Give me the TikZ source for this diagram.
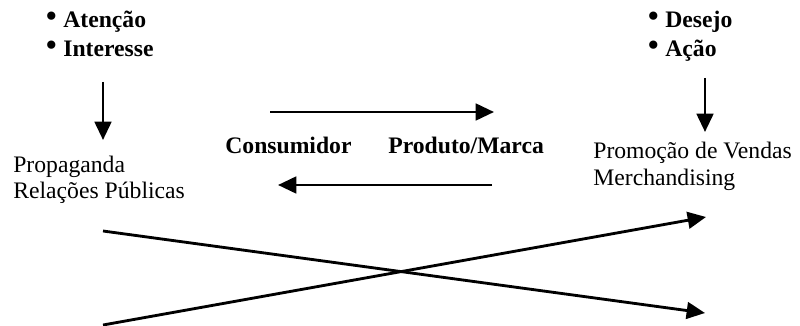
\documentclass[tikz,border=0pt]{standalone}
\usepackage{fontspec}
\setmainfont{Liberation Serif}
\usetikzlibrary{arrows.meta}

\newcommand{\bul}[1]{\makebox[10.8pt][l]{\smash{\scalebox{1.45}{\textbullet}}}\textbf{#1}}

\tikzset{
    txt/.style={anchor=base west, inner sep=0pt, font=\fontsize{14.2pt}{16pt}\selectfont},
    arr/.style={line width=1.7pt, -{Triangle[length=11pt,width=10pt]}}
}

\begin{document}
\begin{tikzpicture}[x=0.6pt, y=-0.6pt]
        \useasboundingbox (0,0) rectangle (800,326);

        \node[txt] (aten) at (45,28) {\bul{Atenção}};
        \node[txt] (inter) at (45,57) {\bul{Interesse}};
        \node[txt] (des) at (647,28) {\bul{Desejo}};
        \node[txt] (acao) at (647,57) {\bul{Ação}};

        \node[txt] (prop) at (13,172) {Propaganda};
        \node[txt] (rp) at (13,198) {Relações Públicas};
        \node[txt] (promo) at (593,158) {Promoção de Vendas};
        \node[txt] (merch) at (593,185) {Merchandising};

        \node[txt] (cons) at (225,153) {\textbf{Consumidor}};
        \node[txt] (prod) at (388,153) {\textbf{Produto/Marca}};

        \coordinate (la) at (103,82);   \coordinate (lb) at (103,140);
        \coordinate (ra) at (705,78);   \coordinate (rb) at (705,132);
        \coordinate (ta) at (270,112);  \coordinate (tb) at (494,112);
        \coordinate (ba) at (492,185);  \coordinate (bb) at (278,185);
        \coordinate (xa) at (103,231);  \coordinate (xb) at (705,313);
        \coordinate (ya) at (103,325);  \coordinate (yb) at (706,217);

        \draw[arr] (la) -- (lb);
        \draw[arr] (ra) -- (rb);
        \draw[arr] (ta) -- (tb);
        \draw[arr] (ba) -- (bb);
        \draw[arr] (xa) -- (xb);
        \draw[arr] (ya) -- (yb);
    \end{tikzpicture}
\end{document}
